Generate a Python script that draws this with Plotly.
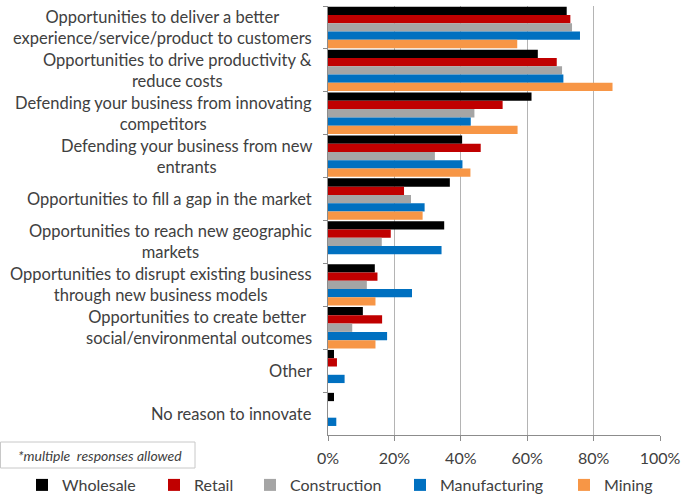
import plotly.graph_objects as go

# Reasons for innovating, by industry (share of respondents, %)
categories = [
    "Opportunities to deliver a better<br>experience/service/product to customers",
    "Opportunities to drive productivity &<br>reduce costs",
    "Defending your business from innovating<br>competitors",
    "Defending your business from new<br>entrants",
    "Opportunities to fill a gap in the market",
    "Opportunities to reach new geographic<br>markets",
    "Opportunities to disrupt existing business<br>through new business models",
    "Opportunities to create better\u00a0<br>social/environmental outcomes",
    "Other",
    "No reason to innovate",
]

wholesale = [71.9, 63.2, 61.3, 40.4, 36.7, 35.0, 14.1, 10.5, 1.8, 1.8]
retail = [73.0, 68.9, 52.6, 46.0, 22.9, 18.9, 14.9, 16.3, 2.7, 0]
construction = [73.5, 70.5, 44.1, 32.2, 25.0, 16.2, 11.7, 7.3, 0, 0]
manufacturing = [75.9, 70.9, 43.0, 40.5, 29.1, 34.2, 25.3, 17.8, 5.0, 2.5]
mining = [57.0, 85.7, 57.1, 42.9, 28.5, 0, 14.3, 14.3, 0, 0]

series = [
    ("Wholesale", wholesale, "#000000"),
    ("Retail", retail, "#C00000"),
    ("Construction", construction, "#A5A5A5"),
    ("Manufacturing", manufacturing, "#0070C0"),
    ("Mining", mining, "#F79646"),
]

x_ticks = [0, 20, 40, 60, 80, 100]
x_tick_labels = [f"{v}%" for v in x_ticks]
note_text = "*multiple\u00a0 responses allowed"

FONT = "Lato, 'Open Sans', sans-serif"
TEXT = "#404040"

W, H = 681, 497
L, R, T, B = 328, 21, 6, 62
pw, ph = W - L - R, H - T - B


def px_x(p):
    return (p - L) / pw


def px_y(p):
    return (H - B - p) / ph


# Left edge (px) of each legend entry along the bottom row
legend_left = [22, 154, 250, 400, 564]

fig = go.Figure()
legend_layouts = {}
for i, (name, vals, color) in enumerate(series):
    key = "legend" if i == 0 else f"legend{i + 1}"
    fig.add_trace(go.Bar(
        y=categories, x=vals, name=name, orientation="h",
        marker=dict(color=color, line=dict(width=0)),
        legend=key,
    ))
    legend_layouts[key] = dict(
        orientation="h", xref="container", yref="container",
        x=legend_left[i] / W, xanchor="left",
        y=1 - 485 / H, yanchor="middle",
        font=dict(family=FONT, size=16, color=TEXT),
        itemclick=False, borderwidth=0, bgcolor="rgba(0,0,0,0)",
    )

# Category labels: centred multi-line blocks to the left of the axis
for cat in categories:
    fig.add_annotation(
        x=0, xref="paper", y=cat, yref="y",
        text=cat, showarrow=False, xanchor="right", yanchor="middle",
        align="center", xshift=-14,
        font=dict(family=FONT, size=16.5, color=TEXT),
    )

# Footnote box
fig.add_shape(type="rect", xref="paper", yref="paper",
              x0=px_x(0.5), x1=px_x(195), y0=px_y(468), y1=px_y(442),
              line=dict(color="#C8C8C8", width=1), fillcolor="white")
fig.add_annotation(x=px_x(16), xref="paper", y=px_y(455), yref="paper",
                   text="<i>" + note_text + "</i>", showarrow=False,
                   xanchor="left", yanchor="middle",
                   font=dict(family=FONT, size=14, color=TEXT))

fig.update_layout(
    width=W, height=H,
    margin=dict(l=L, r=R, t=T, b=B, pad=0, autoexpand=False),
    paper_bgcolor="white", plot_bgcolor="white",
    barmode="group", bargap=0.035, bargroupgap=0,
    font=dict(family=FONT, size=15, color=TEXT),
    showlegend=True,
    **legend_layouts,
)

fig.update_xaxes(
    range=[0, 100], tickmode="array", tickvals=x_ticks, ticktext=x_tick_labels,
    showgrid=True, gridcolor="#B4B4B4", gridwidth=1,
    showline=True, linecolor="#8C8C8C", linewidth=1,
    ticks="outside", ticklen=5, tickcolor="#8C8C8C",
    zeroline=False, fixedrange=True, automargin=False,
    tickfont=dict(family=FONT, size=16, color=TEXT),
    ticklabelstandoff=4,
)
fig.update_yaxes(
    type="category", range=[len(categories) - 0.5, -0.5],
    showticklabels=False, showline=True, linecolor="#8C8C8C", linewidth=1,
    ticks="outside", ticklen=4, tickcolor="#8C8C8C", tickson="boundaries",
    showgrid=False, zeroline=False, fixedrange=True, automargin=False,
)

fig.write_html("out.html", config={"displayModeBar": False})
